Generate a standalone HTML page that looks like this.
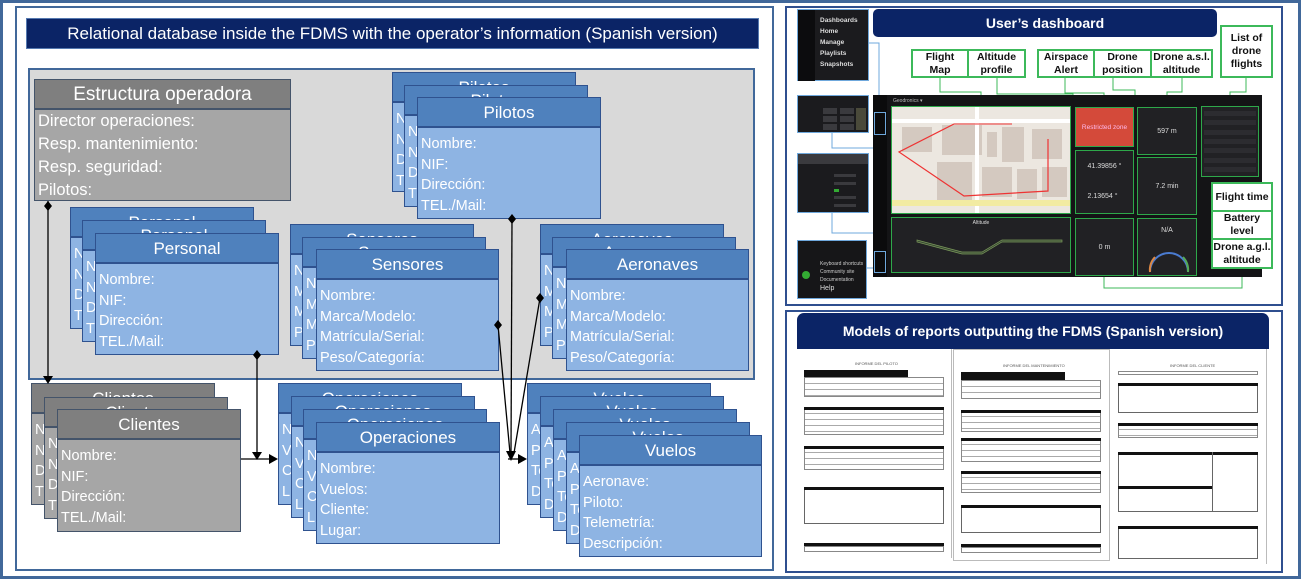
<!DOCTYPE html>
<html><head><meta charset="utf-8"><style>
*{margin:0;padding:0;box-sizing:border-box}
body{width:1301px;height:579px;background:#fff;position:relative;overflow:hidden;font-family:"Liberation Sans",sans-serif}
.a{position:absolute}
.bx{position:absolute;border:1.5px solid #2f528f;background:#8eb4e3;overflow:hidden;color:#fff}
.bx .h{height:30px;background:#4f81bd;border-bottom:2px solid #2f528f;text-align:center;font-size:17px;line-height:30px}
.bx .b{padding:6px 0 0 3px;font-size:14.5px;line-height:20.6px;white-space:nowrap}
.g{background:#a6a6a6;border-color:#44546a}
.g .h{background:#7f7f7f;border-color:#44546a}
.lab{position:absolute;border:2.5px solid #3cb95a;background:#fff;font-weight:bold;font-size:10.5px;text-align:center;line-height:13px;display:flex;align-items:center;justify-content:center;color:#111}
.pn{position:absolute;border:1.5px solid #2ea84a;background:#212124;color:#ddd;font-size:8px;display:flex;align-items:center;justify-content:center}
.pg{position:absolute;background:#fff;border:1px solid #bbb}
.bar{position:absolute;background:#111;height:4px}
.tb{position:absolute;border:1px solid #888;background:repeating-linear-gradient(#fff 0 5px,#aaa 5px 6px)}
.gr{position:absolute;background:#3a3a3e}
</style></head><body>
<div class="a" style="left:0;top:0;width:1301px;height:579px;border:3px solid #41689a"></div>
<div class="a" style="left:15px;top:6px;width:759px;height:565px;border:2px solid #41689a;background:#fff"></div>
<div class="a" style="left:26px;top:18px;width:733px;height:31px;background:#0b2466;border:1px solid #5579b0;color:#fff;font-size:17px;text-align:center;line-height:29px">Relational database inside the FDMS with the operator’s information (Spanish version)</div>
<div class="a" style="left:28px;top:68px;width:727px;height:312px;background:#d9d9d9;border:2px solid #41689a"></div>

<div class="bx g" style="left:34px;top:79px;width:257px;height:122px"><div class="h" style="font-size:19px">Estructura operadora</div><div class="b" style="font-size:16.5px;line-height:23px;padding-top:0">Director operaciones:<br>Resp. mantenimiento:<br>Resp. seguridad:<br>Pilotos:</div></div>

<div class="bx" style="left:392px;top:72px;width:184px;height:120px"><div class="h">Pilotos</div><div class="b">Nombre:<br>NIF:<br>Dirección:<br>TEL./Mail:</div></div>
<div class="bx" style="left:404px;top:85px;width:184px;height:122px"><div class="h">Pilotos</div><div class="b">Nombre:<br>NIF:<br>Dirección:<br>TEL./Mail:</div></div>
<div class="bx" style="left:417px;top:97px;width:184px;height:122px"><div class="h">Pilotos</div><div class="b">Nombre:<br>NIF:<br>Dirección:<br>TEL./Mail:</div></div>

<div class="bx" style="left:70px;top:207px;width:184px;height:122px"><div class="h">Personal</div><div class="b">Nombre:<br>NIF:<br>Dirección:<br>TEL./Mail:</div></div>
<div class="bx" style="left:82px;top:220px;width:184px;height:122px"><div class="h">Personal</div><div class="b">Nombre:<br>NIF:<br>Dirección:<br>TEL./Mail:</div></div>
<div class="bx" style="left:95px;top:233px;width:184px;height:122px"><div class="h">Personal</div><div class="b">Nombre:<br>NIF:<br>Dirección:<br>TEL./Mail:</div></div>

<div class="bx" style="left:290px;top:224px;width:184px;height:122px"><div class="h">Sensores</div><div class="b">Nombre:<br>Marca/Modelo:<br>Matrícula/Serial:<br>Peso/Categoría:</div></div>
<div class="bx" style="left:302px;top:237px;width:184px;height:122px"><div class="h">Sensores</div><div class="b">Nombre:<br>Marca/Modelo:<br>Matrícula/Serial:<br>Peso/Categoría:</div></div>
<div class="bx" style="left:316px;top:249px;width:183px;height:122px"><div class="h">Sensores</div><div class="b">Nombre:<br>Marca/Modelo:<br>Matrícula/Serial:<br>Peso/Categoría:</div></div>

<div class="bx" style="left:540px;top:224px;width:184px;height:122px"><div class="h">Aeronaves</div><div class="b">Nombre:<br>Marca/Modelo:<br>Matrícula/Serial:<br>Peso/Categoría:</div></div>
<div class="bx" style="left:552px;top:237px;width:184px;height:122px"><div class="h">Aeronaves</div><div class="b">Nombre:<br>Marca/Modelo:<br>Matrícula/Serial:<br>Peso/Categoría:</div></div>
<div class="bx" style="left:566px;top:249px;width:183px;height:122px"><div class="h">Aeronaves</div><div class="b">Nombre:<br>Marca/Modelo:<br>Matrícula/Serial:<br>Peso/Categoría:</div></div>

<div class="bx g" style="left:31px;top:383px;width:184px;height:122px"><div class="h">Clientes</div><div class="b">Nombre:<br>NIF:<br>Dirección:<br>TEL./Mail:</div></div>
<div class="bx g" style="left:44px;top:397px;width:184px;height:122px"><div class="h">Clientes</div><div class="b">Nombre:<br>NIF:<br>Dirección:<br>TEL./Mail:</div></div>
<div class="bx g" style="left:57px;top:409px;width:184px;height:123px"><div class="h">Clientes</div><div class="b">Nombre:<br>NIF:<br>Dirección:<br>TEL./Mail:</div></div>

<div class="bx" style="left:278px;top:383px;width:184px;height:122px"><div class="h">Operaciones</div><div class="b">Nombre:<br>Vuelos:<br>Cliente:<br>Lugar:</div></div>
<div class="bx" style="left:291px;top:396px;width:184px;height:122px"><div class="h">Operaciones</div><div class="b">Nombre:<br>Vuelos:<br>Cliente:<br>Lugar:</div></div>
<div class="bx" style="left:303px;top:409px;width:184px;height:122px"><div class="h">Operaciones</div><div class="b">Nombre:<br>Vuelos:<br>Cliente:<br>Lugar:</div></div>
<div class="bx" style="left:316px;top:422px;width:184px;height:122px"><div class="h">Operaciones</div><div class="b">Nombre:<br>Vuelos:<br>Cliente:<br>Lugar:</div></div>

<div class="bx" style="left:527px;top:383px;width:184px;height:122px"><div class="h">Vuelos</div><div class="b">Aeronave:<br>Piloto:<br>Telemetría:<br>Descripción:</div></div>
<div class="bx" style="left:540px;top:396px;width:184px;height:122px"><div class="h">Vuelos</div><div class="b">Aeronave:<br>Piloto:<br>Telemetría:<br>Descripción:</div></div>
<div class="bx" style="left:553px;top:409px;width:184px;height:122px"><div class="h">Vuelos</div><div class="b">Aeronave:<br>Piloto:<br>Telemetría:<br>Descripción:</div></div>
<div class="bx" style="left:566px;top:422px;width:184px;height:122px"><div class="h">Vuelos</div><div class="b">Aeronave:<br>Piloto:<br>Telemetría:<br>Descripción:</div></div>
<div class="bx" style="left:579px;top:435px;width:183px;height:122px"><div class="h">Vuelos</div><div class="b">Aeronave:<br>Piloto:<br>Telemetría:<br>Descripción:</div></div>

<svg class="a" style="left:0;top:0" width="780" height="579">
<g stroke="#000" stroke-width="1.3" fill="none">
<line x1="48" y1="201" x2="48" y2="378"/>
<line x1="257" y1="355" x2="257" y2="454"/>
<line x1="241" y1="459" x2="270" y2="459"/>
<line x1="512" y1="219" x2="511" y2="453"/>
<line x1="498" y1="325" x2="510" y2="453"/>
<line x1="540" y1="298" x2="514" y2="453"/>
<line x1="508" y1="459" x2="520" y2="459"/>
</g>
<g fill="#000">
<polygon points="48,201 52,206 48,211 44,206"/>
<polygon points="257,350 261,355 257,360 253,355"/>
<polygon points="512,214 516,219 512,224 508,219"/>
<polygon points="498,320 502,325 498,330 494,325"/>
<polygon points="540,293 544,298 540,303 536,298"/>
<polygon points="43,376 53,376 48,384"/>
<polygon points="252,452 262,452 257,460"/>
<polygon points="269,454 269,464 278,459"/>
<polygon points="506,451 516,451 511,461"/>
<polygon points="518,454 518,464 527,459"/>
</g>
</svg>

<!-- right top panel -->
<div class="a" style="left:785px;top:6px;width:498px;height:300px;border:2px solid #2f4f8f;background:#fff"></div>
<div class="a" style="left:873px;top:9px;width:344px;height:28px;background:#0b2466;border-radius:5px;color:#fff;font-weight:bold;font-size:14px;text-align:center;line-height:28px">User’s dashboard</div>
<div class="a" style="left:797px;top:9px;width:72px;height:72px;background:#1b1b1e;border:1px solid #6fa8dc"><div class="a" style="left:0;top:0;width:17px;height:71px;background:#0c0c0e"></div><div class="a" style="left:22px;top:5px;color:#ddd;font-size:6.5px;line-height:11px;font-weight:bold">Dashboards<br>Home<br>Manage<br>Playlists<br>Snapshots</div></div>
<div class="a" style="left:797px;top:95px;width:72px;height:38px;background:#1b1b1e;border:1px solid #6fa8dc"><div class="gr" style="left:25px;top:12px;width:14px;height:6px"></div><div class="gr" style="left:42px;top:12px;width:14px;height:6px"></div><div class="gr" style="left:25px;top:20px;width:14px;height:6px"></div><div class="gr" style="left:42px;top:20px;width:14px;height:6px"></div><div class="gr" style="left:25px;top:28px;width:14px;height:6px"></div><div class="gr" style="left:42px;top:28px;width:14px;height:6px"></div><div class="a" style="left:58px;top:12px;width:10px;height:22px;background:#4a4a3a"></div></div>
<div class="a" style="left:797px;top:153px;width:72px;height:60px;background:#1b1b1e;border:1px solid #6fa8dc"><div class="gr" style="left:0;top:0;width:70px;height:10px"></div><div class="gr" style="left:36px;top:20px;width:22px;height:3px"></div><div class="gr" style="left:36px;top:28px;width:22px;height:3px"></div><div class="a" style="left:36px;top:35px;width:5px;height:3px;background:#3a3"></div><div class="gr" style="left:36px;top:42px;width:22px;height:3px"></div><div class="gr" style="left:36px;top:50px;width:22px;height:3px"></div></div>
<div class="a" style="left:797px;top:240px;width:70px;height:59px;background:#161618;border:1px solid #6fa8dc"><div class="a" style="left:22px;top:19px;color:#ccc;font-size:5px;line-height:8px">Keyboard shortcuts<br>Community site<br>Documentation</div><div class="a" style="left:22px;top:44px;color:#ddd;font-size:7px">Help</div><div class="a" style="left:4px;top:30px;width:8px;height:8px;border-radius:50%;background:#3a3"></div></div>
<svg class="a" style="left:785px;top:6px" width="498" height="300"><g fill="none" stroke="#6fa8dc" stroke-width="1"><path d="M84 37 H94 V107"/><path d="M47 127 V142 H94 V131"/><path d="M47 207 V227 H94 V247"/><path d="M82 262 H94"/></g>
<g fill="none" stroke="#3cb95a" stroke-width="1"><path d="M155 72 V86 H196 V100"/><path d="M212 72 V88 H288 V239"/><path d="M280 72 V87 H319 V101"/><path d="M328 72 V84 H350 V144"/><path d="M397 72 V86 H382 V101"/><path d="M461 72 V86 H445 V89"/><path d="M415 180 V190 H427"/><path d="M428 225 H418 V245 H412"/><path d="M319 271 V282 H457 V262"/></g></svg>
<div class="a" style="left:873px;top:95px;width:389px;height:182px;background:#141416"></div>
<div class="a" style="left:873px;top:95px;width:14px;height:182px;background:#0b0b0c"></div>
<div class="a" style="left:874px;top:112px;width:12px;height:23px;border:1.5px solid #6fa8dc"></div>
<div class="a" style="left:874px;top:251px;width:12px;height:22px;border:1.5px solid #6fa8dc"></div>
<div class="a" style="left:893px;top:98px;color:#bbb;font-size:5px">Geodronics ▾</div>
<div class="pn" style="left:891px;top:106px;width:180px;height:108px;background:#ece7e0;overflow:hidden">
<svg width="178" height="106" style="position:absolute;left:0;top:0"><g fill="#d4c9c0"><rect x="10" y="20" width="30" height="25"/><rect x="50" y="18" width="40" height="30"/><rect x="110" y="20" width="22" height="35"/><rect x="140" y="22" width="30" height="30"/><rect x="45" y="55" width="35" height="40"/><rect x="90" y="60" width="30" height="30"/><rect x="125" y="62" width="20" height="30"/><rect x="150" y="60" width="25" height="30"/><rect x="95" y="25" width="10" height="25"/></g><rect x="0" y="12" width="178" height="4" fill="#fff"/><rect x="83" y="0" width="4" height="106" fill="#fff"/><rect x="0" y="93" width="178" height="6" fill="#f2eba2"/><polyline points="62,17 120,17" fill="none" stroke="#e33" stroke-width="1"/><polyline points="62,17 7,45 72,89 156,84 156,32" fill="none" stroke="#e33" stroke-width="1.2"/></svg></div>
<div class="pn" style="left:891px;top:217px;width:180px;height:56px;align-items:flex-start;padding-top:2px;font-size:5px">Altitude<svg class="a" style="left:10px;top:10px" width="165" height="40"><path d="M15 12 L45 20 L60 24 L80 24 L100 12 L160 12 L160 14 L100 14 L80 26 L60 26 L45 22 L15 14Z" fill="#3b4a35" stroke="#7a9a5a" stroke-width=".7"/></svg></div>
<div class="pn" style="left:1075px;top:107px;width:59px;height:40px;background:#d44a3a;color:#fbe;font-size:6.5px">Restricted zone</div>
<div class="pn" style="left:1075px;top:150px;width:59px;height:64px;flex-direction:column;font-size:7px;line-height:30px">41.39856 °<br>2.13654 °</div>
<div class="pn" style="left:1075px;top:218px;width:59px;height:58px;font-size:7px">0 m</div>
<div class="pn" style="left:1137px;top:107px;width:60px;height:48px;font-size:7px">597 m</div>
<div class="pn" style="left:1137px;top:157px;width:60px;height:58px;font-size:7px">7.2 min</div>
<div class="pn" style="left:1137px;top:218px;width:60px;height:58px;align-items:flex-start;padding-top:8px;font-size:7px">N/A<svg class="a" style="left:5px;top:16px" width="50" height="40"><path d="M7 37 A19 19 0 0 1 45 37" fill="none" stroke="#4a7bd0" stroke-width="2"/><path d="M7 37 A19 19 0 0 1 12 22" fill="none" stroke="#d84" stroke-width="2"/><path d="M40 22 A19 19 0 0 1 45 37" fill="none" stroke="#5a5" stroke-width="2"/></svg></div>
<div class="pn" style="left:1201px;top:106px;width:58px;height:71px;flex-direction:column;justify-content:space-around;padding:2px"><div style="width:52px;height:5px;background:#2c2c30"></div><div style="width:52px;height:5px;background:#2c2c30"></div><div style="width:52px;height:5px;background:#2c2c30"></div><div style="width:52px;height:5px;background:#2c2c30"></div><div style="width:52px;height:5px;background:#2c2c30"></div><div style="width:52px;height:5px;background:#2c2c30"></div><div style="width:52px;height:5px;background:#2c2c30"></div></div>
<div class="lab" style="left:911px;top:49px;width:58px;height:29px">Flight<br>Map</div>
<div class="lab" style="left:967px;top:49px;width:59px;height:29px">Altitude<br>profile</div>
<div class="lab" style="left:1037px;top:49px;width:58px;height:29px">Airspace<br>Alert</div>
<div class="lab" style="left:1093px;top:49px;width:59px;height:29px">Drone<br>position</div>
<div class="lab" style="left:1150px;top:49px;width:63px;height:29px">Drone a.s.l.<br>altitude</div>
<div class="lab" style="left:1220px;top:25px;width:53px;height:53px">List of<br>drone<br>flights</div>
<div class="lab" style="left:1211px;top:182px;width:62px;height:30px">Flight time</div>
<div class="lab" style="left:1211px;top:210px;width:62px;height:30px">Battery<br>level</div>
<div class="lab" style="left:1211px;top:238px;width:62px;height:31px">Drone a.g.l.<br>altitude</div>

<!-- right bottom panel -->
<div class="a" style="left:785px;top:310px;width:498px;height:263px;border:2px solid #2f4f8f;background:#fff"></div>
<div class="a" style="left:797px;top:313px;width:472px;height:36px;background:#0b2466;border-radius:7px 7px 0 0;color:#fff;font-weight:bold;font-size:14px;text-align:center;line-height:36px">Models of reports outputting the FDMS (Spanish version)</div>
<div class="pg" style="left:797px;top:349px;width:155px;height:209px;border-width:0 1px 0 0"></div>
<div class="pg" style="left:953px;top:349px;width:157px;height:212px"></div>
<div class="pg" style="left:1111px;top:349px;width:156px;height:215px;border-width:0 1px 0 0"></div>
<div class="a" style="left:855px;top:361px;font-size:4px;color:#555">INFORME DEL PILOTO</div>
<div class="bar" style="left:804px;top:370px;width:104px;height:7px"></div>
<div class="tb" style="left:804px;top:377px;width:140px;height:20px"></div>
<div class="tb" style="left:804px;top:407px;width:140px;height:28px"></div>
<div class="bar" style="left:804px;top:407px;width:140px;height:3px"></div>
<div class="tb" style="left:804px;top:446px;width:140px;height:24px"></div>
<div class="bar" style="left:804px;top:446px;width:140px;height:3px"></div>
<div class="a" style="left:804px;top:487px;width:140px;height:37px;border:1px solid #666"></div>
<div class="bar" style="left:804px;top:487px;width:140px;height:3px"></div>
<div class="bar" style="left:804px;top:543px;width:140px;height:3px"></div>
<div class="a" style="left:804px;top:546px;width:140px;height:6px;border:1px solid #888"></div>
<div class="a" style="left:1003px;top:363px;font-size:4px;color:#555">INFORME DEL MANTENIMIENTO</div>
<div class="bar" style="left:961px;top:372px;width:104px;height:8px"></div>
<div class="tb" style="left:961px;top:380px;width:140px;height:19px"></div>
<div class="tb" style="left:961px;top:410px;width:140px;height:22px"></div>
<div class="bar" style="left:961px;top:410px;width:140px;height:3px"></div>
<div class="tb" style="left:961px;top:438px;width:140px;height:24px"></div>
<div class="bar" style="left:961px;top:438px;width:140px;height:3px"></div>
<div class="tb" style="left:961px;top:471px;width:140px;height:22px"></div>
<div class="bar" style="left:961px;top:471px;width:140px;height:3px"></div>
<div class="a" style="left:961px;top:505px;width:140px;height:28px;border:1px solid #666"></div>
<div class="bar" style="left:961px;top:505px;width:140px;height:3px"></div>
<div class="bar" style="left:961px;top:544px;width:140px;height:3px"></div>
<div class="a" style="left:961px;top:547px;width:140px;height:6px;border:1px solid #888"></div>
<div class="a" style="left:1170px;top:363px;font-size:4px;color:#555">INFORME DEL CLIENTE</div>
<div class="a" style="left:1118px;top:371px;width:140px;height:4px;border:1px solid #888"></div>
<div class="a" style="left:1118px;top:383px;width:140px;height:30px;border:1px solid #666"></div>
<div class="bar" style="left:1118px;top:383px;width:140px;height:3px"></div>
<div class="tb" style="left:1118px;top:423px;width:140px;height:15px"></div>
<div class="bar" style="left:1118px;top:423px;width:140px;height:3px"></div>
<div class="a" style="left:1118px;top:452px;width:140px;height:60px;border:1px solid #666"></div>
<div class="bar" style="left:1118px;top:452px;width:140px;height:3px"></div>
<div class="a" style="left:1212px;top:452px;width:1px;height:60px;background:#666"></div>
<div class="bar" style="left:1118px;top:486px;width:94px;height:3px"></div>
<div class="a" style="left:1118px;top:526px;width:140px;height:33px;border:1px solid #666"></div>
<div class="bar" style="left:1118px;top:526px;width:140px;height:3px"></div>
</body></html>
